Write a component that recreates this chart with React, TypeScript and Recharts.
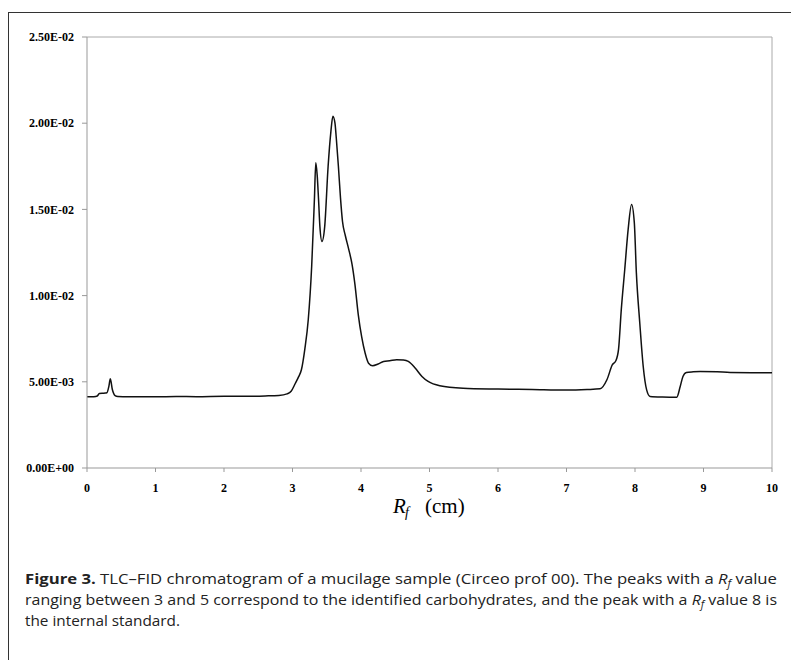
import React from 'react';
import { LineChart, Line, XAxis, YAxis, ReferenceLine } from 'recharts';

const rfValues = [
  0, 0.1, 0.15, 0.18, 0.25, 0.29, 0.32, 0.34, 0.37, 0.41, 0.45, 0.6, 0.8, 1.0, 1.3, 1.6, 2.0, 2.3, 2.6, 2.8,
  2.92, 2.98, 3.04, 3.09, 3.13, 3.18, 3.23, 3.28, 3.32, 3.34, 3.36, 3.38, 3.4, 3.43, 3.47, 3.52, 3.56, 3.59,
  3.62, 3.64, 3.67, 3.7, 3.73, 3.77, 3.82, 3.87, 3.91, 3.96, 4.01, 4.06, 4.11, 4.17, 4.25, 4.33, 4.42, 4.52,
  4.62, 4.69, 4.79, 4.89, 4.98, 5.15, 5.49, 6.0, 6.5, 7.0, 7.3, 7.49, 7.59, 7.67, 7.72, 7.76, 7.8, 7.85,
  7.9, 7.95, 7.99, 8.02, 8.07, 8.12, 8.17, 8.22, 8.4, 8.61, 8.66, 8.7, 8.75, 8.85, 8.95, 9.2, 9.39, 9.7, 10,
];

const signalValues = [
  0.00413, 0.00414, 0.00418, 0.00432, 0.00434, 0.00436, 0.00475, 0.00517, 0.00455, 0.0042, 0.00415, 0.00413,
  0.00414, 0.00413, 0.00415, 0.00414, 0.00416, 0.00416, 0.00418, 0.00421,
  0.0043, 0.00445, 0.0049, 0.0053, 0.0057, 0.0069, 0.0086, 0.0117, 0.0156, 0.0177, 0.017, 0.0156, 0.014,
  0.01314, 0.014, 0.0175, 0.0195, 0.0204,
  0.02, 0.0191, 0.0175, 0.0157, 0.0143, 0.0135, 0.0127, 0.0118, 0.0107, 0.0089, 0.0076, 0.00667, 0.00608,
  0.00593, 0.00603, 0.00618, 0.00622, 0.00628,
  0.00626, 0.00618, 0.0058, 0.00531, 0.00502, 0.00477, 0.00463, 0.00458, 0.00455, 0.00452, 0.00455, 0.00459,
  0.00512, 0.00599, 0.00622, 0.0069, 0.0092, 0.0115,
  0.01384, 0.01529, 0.01423, 0.01132, 0.0084, 0.00589, 0.00453, 0.00415, 0.00412, 0.00411, 0.00473, 0.00531,
  0.00554, 0.00558, 0.0056, 0.00558, 0.00554, 0.00553, 0.00552,
];

const xTicks = [0, 1, 2, 3, 4, 5, 6, 7, 8, 9, 10];
const yTicks = [0, 0.005, 0.01, 0.015, 0.02, 0.025];
const yTickLabels = ['0.00E+00', '5.00E-03', '1.00E-02', '1.50E-02', '2.00E-02', '2.50E-02'];

const data = rfValues.map((rf, i) => ({ rf, signal: signalValues[i] }));

const fmtY = (v: number) => {
  let best = 0;
  yTicks.forEach((t, i) => {
    if (Math.abs(t - v) < Math.abs(yTicks[best] - v)) best = i;
  });
  return yTickLabels[best];
};

const serif = '"Liberation Serif", "Times New Roman", serif';
const tickStyle = { fontFamily: serif, fontWeight: 700, fontSize: 12, fill: '#000' };
const capFont = '"Open Sans", "Noto Sans", sans-serif';

export default function App() {
  return (
    <div style={{ position: 'absolute', left: 0, top: 0, width: 791, height: 660, background: '#fff', overflow: 'hidden' }}>
      <div
        style={{
          position: 'absolute', left: 8, top: 12, width: 820, height: 700,
          borderLeft: '1.5px solid #333', borderTop: '1.5px solid #333',
        }}
      />
      <div style={{ position: 'absolute', left: 0, top: 0 }}>
        <LineChart width={791} height={540} data={data} margin={{ top: 37, right: 19, bottom: 42, left: 8 }}>
          <XAxis
            type="number"
            dataKey="rf"
            domain={[0, 10]}
            ticks={xTicks}
            allowDataOverflow
            stroke="#999"
            tickSize={4}
            tickMargin={11}
            tick={tickStyle}
            tickLine={{ stroke: '#999' }}
            axisLine={{ stroke: '#999' }}
          />
          <YAxis
            type="number"
            domain={[0, 0.025]}
            ticks={yTicks}
            width={79}
            allowDataOverflow
            tickFormatter={fmtY}
            tickSize={5}
            tickMargin={8}
            tick={tickStyle}
            tickLine={{ stroke: '#999' }}
            axisLine={{ stroke: '#999' }}
          />
          <ReferenceLine y={0.025} stroke="#aaa" strokeWidth={1} />
          <ReferenceLine x={10} stroke="#aaa" strokeWidth={1} />
          <Line
            type="monotone"
            dataKey="signal"
            stroke="#111"
            strokeWidth={1.5}
            dot={false}
            isAnimationActive={false}
          />
        </LineChart>
      </div>
      <svg width={791} height={660} style={{ position: 'absolute', left: 0, top: 0, pointerEvents: 'none' }}>
        <text x={393} y={513} fontFamily={serif} fontSize={21} fontStyle="italic" fill="#000">R</text>
        <text x={405} y={517} fontFamily={serif} fontSize={14} fontStyle="italic" fill="#000">f</text>
        <text x={425} y={513} fontFamily={serif} fontSize={21} fill="#000">(cm)</text>

        <text x={25} y={584} fontFamily={capFont} fontSize={14.5} fill="#222" textLength={752} lengthAdjust="spacingAndGlyphs">
          <tspan fontWeight={700}>Figure 3.</tspan>
          <tspan> TLC–FID chromatogram of a mucilage sample (Circeo prof 00). The peaks with a </tspan>
          <tspan fontStyle="italic">R</tspan>
          <tspan fontStyle="italic" fontSize={10} dy={3}>f</tspan>
          <tspan dy={-3}> value</tspan>
        </text>
        <text x={25} y={605} fontFamily={capFont} fontSize={14.5} fill="#222" textLength={752} lengthAdjust="spacingAndGlyphs">
          <tspan>ranging between 3 and 5 correspond to the identified carbohydrates, and the peak with a </tspan>
          <tspan fontStyle="italic">R</tspan>
          <tspan fontStyle="italic" fontSize={10} dy={3}>f</tspan>
          <tspan dy={-3}> value 8 is</tspan>
        </text>
        <text x={25} y={626} fontFamily={capFont} fontSize={14.5} fill="#222" textLength={155} lengthAdjust="spacingAndGlyphs">
          the internal standard.
        </text>
      </svg>
    </div>
  );
}
